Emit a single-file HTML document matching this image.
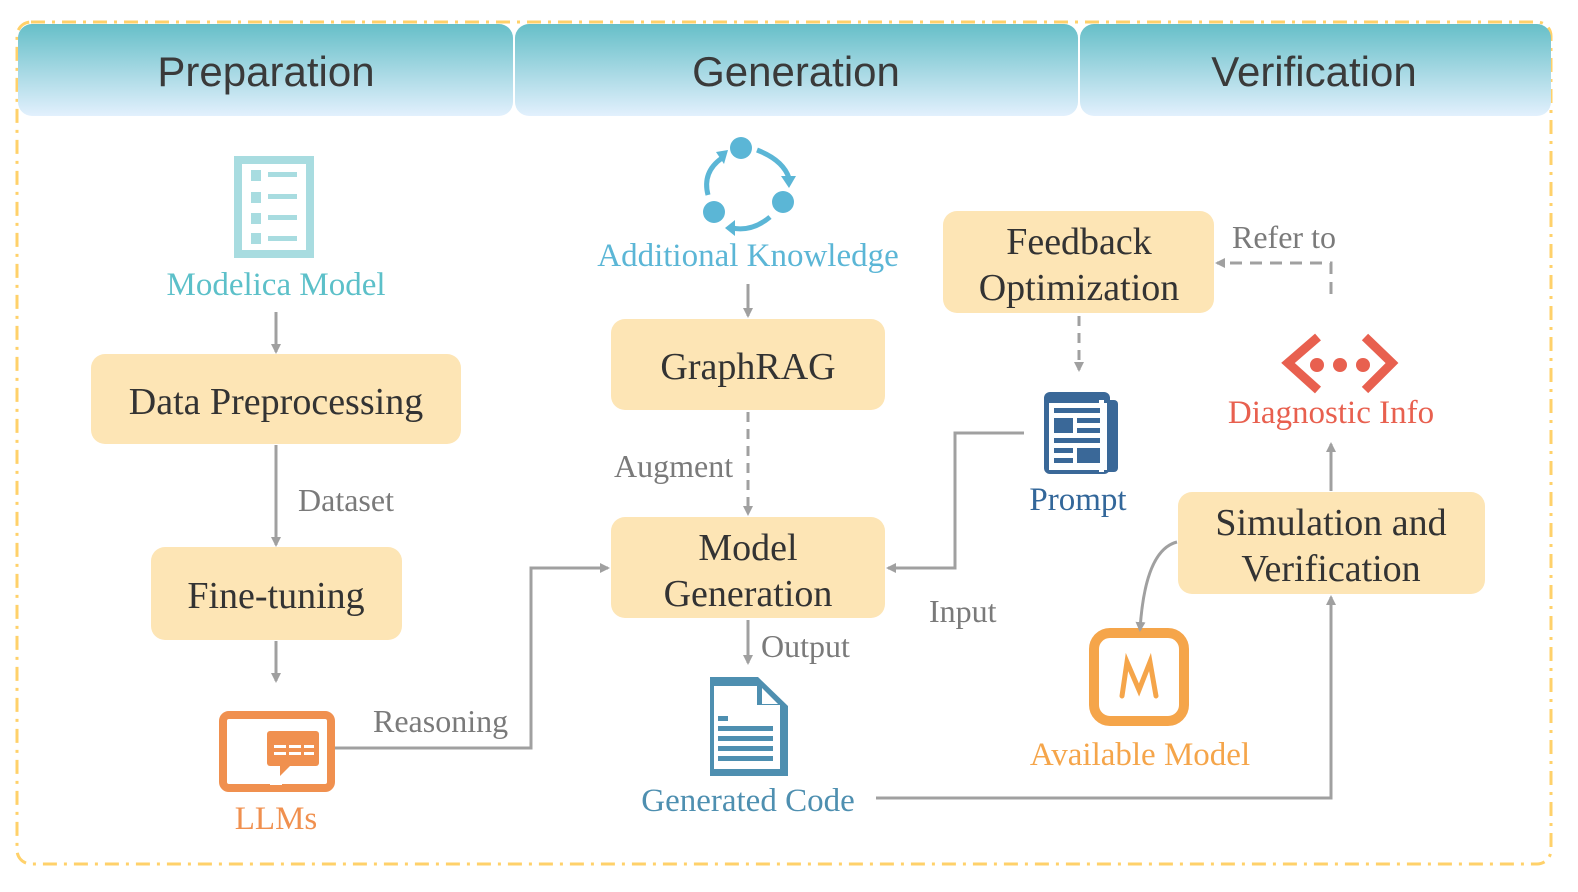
<!DOCTYPE html>
<html><head><meta charset="utf-8"><style>body{margin:0;background:#fff}svg{display:block}</style></head><body>
<svg width="1578" height="892" viewBox="0 0 1578 892" xmlns="http://www.w3.org/2000/svg">
<defs>
<linearGradient id="hg" x1="0" y1="0" x2="0" y2="1"><stop offset="0" stop-color="#66bfc8"/><stop offset="1" stop-color="#e2f0fd"/></linearGradient>
<marker id="ar" markerWidth="10" markerHeight="10" refX="8" refY="5" orient="auto" markerUnits="userSpaceOnUse"><path d="M0,0 L10,5 L0,10 Z" fill="#a0a0a0"/></marker>
</defs>
<rect x="17" y="22" width="1534" height="842" rx="14" fill="none" stroke="#ffd16a" stroke-width="3" stroke-dasharray="14,7,3,7"/>
<rect x="18" y="24" width="495" height="92" rx="14" fill="url(#hg)"/>
<rect x="515" y="24" width="563" height="92" rx="14" fill="url(#hg)"/>
<rect x="1080" y="24" width="471" height="92" rx="14" fill="url(#hg)"/>
<g style="font-family:'Liberation Sans',sans-serif" font-size="42" fill="#3a3a3a" text-anchor="middle">
<text x="266" y="86">Preparation</text><text x="796" y="86">Generation</text><text x="1314" y="86">Verification</text></g>
<g fill="#fde5b5">
<rect x="91" y="354" width="370" height="90" rx="14"/>
<rect x="151" y="547" width="251" height="93" rx="14"/>
<rect x="611" y="319" width="274" height="91" rx="14"/>
<rect x="611" y="517" width="274" height="101" rx="14"/>
<rect x="943" y="211" width="271" height="102" rx="14"/>
<rect x="1178" y="492" width="307" height="102" rx="14"/>
</g>
<g style="font-family:'Liberation Serif',serif" font-size="38" fill="#333" text-anchor="middle">
<text x="276" y="414">Data Preprocessing</text>
<text x="276" y="608">Fine-tuning</text>
<text x="748" y="379">GraphRAG</text>
<text x="748" y="560">Model</text><text x="748" y="606">Generation</text>
<text x="1079" y="254">Feedback</text><text x="1079" y="300">Optimization</text>
<text x="1331" y="535">Simulation and</text><text x="1331" y="581">Verification</text>
</g>
<g style="font-family:'Liberation Serif',serif" font-size="33" text-anchor="middle">
<text x="276" y="295" fill="#5cc0c9">Modelica Model</text>
<text x="748" y="266" fill="#5bb6d6">Additional Knowledge</text>
<text x="1078" y="510" fill="#33679a">Prompt</text>
<text x="1331" y="423" fill="#e8604f">Diagnostic Info</text>
<text x="276" y="829" fill="#f0904f">LLMs</text>
<text x="748" y="811" fill="#4e8fb0">Generated Code</text>
<text x="1140" y="765" fill="#f5a54a">Available Model</text>
</g>
<g style="font-family:'Liberation Serif',serif" font-size="32" fill="#7a7a7a">
<text x="298" y="511">Dataset</text>
<text x="614" y="477">Augment</text>
<text x="373" y="732">Reasoning</text>
<text x="761" y="657">Output</text>
<text x="929" y="622">Input</text>
<text x="1232" y="248">Refer to</text>
</g>
<!-- Modelica icon -->
<rect x="238" y="160" width="72" height="94" fill="none" stroke="#a8dce0" stroke-width="8"/>
<g fill="#a8dce0"><rect x="251" y="170" width="10" height="11"/><rect x="268" y="172" width="29" height="5"/><rect x="251" y="192" width="10" height="11"/><rect x="268" y="194" width="29" height="5"/><rect x="251" y="213" width="10" height="11"/><rect x="268" y="215" width="29" height="5"/><rect x="251" y="233" width="10" height="11"/><rect x="268" y="236" width="29" height="5"/></g>
<!-- cycle icon -->
<g fill="#5bb6d6"><circle cx="741" cy="148" r="11"/><circle cx="783" cy="202" r="11"/><circle cx="714" cy="212" r="11"/></g>
<g fill="none" stroke="#5bb6d6" stroke-width="5"><path d="M757,150 Q783,160 789,178"/><path d="M770,217 Q752,232 732,228"/><path d="M708,195 Q702,172 722,158"/></g>
<g fill="#5bb6d6"><path d="M781,176 L796,176 L789,188Z"/><path d="M735,220 L735,236 L725,228Z"/><path d="M716,152 L728,150 L724,164Z"/></g>
<!-- prompt icon -->
<rect x="1044" y="392" width="66" height="82" rx="6" fill="#3a6898"/><rect x="1104" y="400" width="14" height="72" rx="4" fill="#3a6898"/>
<rect x="1049" y="403" width="58" height="67" fill="#fff"/><rect x="1099" y="400" width="5" height="72" fill="#fff"/>
<g fill="#3a6898"><rect x="1054" y="408" width="46" height="5"/><rect x="1054" y="418" width="19" height="15"/><rect x="1077" y="418" width="23" height="5"/><rect x="1077" y="428" width="23" height="5"/><rect x="1054" y="438" width="46" height="5"/><rect x="1054" y="448" width="19" height="5"/><rect x="1077" y="448" width="23" height="15"/><rect x="1054" y="458" width="19" height="5"/></g>
<!-- diagnostic icon -->
<g fill="none" stroke="#e8604f" stroke-width="9"><path d="M1318,337 L1288,363 L1318,390"/><path d="M1365,337 L1392,363 L1365,390"/></g>
<g fill="#e8604f"><circle cx="1317" cy="365" r="7"/><circle cx="1340" cy="365" r="7"/><circle cx="1363" cy="365" r="7"/></g>
<!-- LLMs icon -->
<rect x="223" y="715" width="108" height="73" rx="6" fill="none" stroke="#f0904f" stroke-width="8"/>
<rect x="267" y="731" width="52" height="35" rx="3" fill="#f0904f"/><path d="M280,766 L280,776 L290,766Z" fill="#f0904f"/>
<g fill="#fff"><rect x="274" y="745" width="12" height="3"/><rect x="289" y="745" width="12" height="3"/><rect x="304" y="745" width="10" height="3"/><rect x="274" y="752" width="12" height="3"/><rect x="289" y="752" width="12" height="3"/><rect x="304" y="752" width="10" height="3"/></g>
<rect x="270" y="782" width="12" height="3" fill="#fff"/>
<!-- generated code -->
<path d="M710,677 L758,677 L788,706 L788,776 L710,776 Z" fill="#4e8fb0"/>
<path d="M714,686 L757,686 L757,705 L780,705 L780,769 L714,769 Z" fill="#fff"/>
<path d="M762,688 L778,704 L762,704Z" fill="#fff"/>
<g fill="#4e8fb0"><rect x="718" y="716" width="10" height="5"/><rect x="718" y="726" width="55" height="5"/><rect x="718" y="736" width="55" height="5"/><rect x="718" y="746" width="55" height="5"/><rect x="718" y="756" width="55" height="5"/></g>
<!-- available model -->
<rect x="1094" y="633" width="90" height="88" rx="16" fill="none" stroke="#f5a54a" stroke-width="10"/>
<path d="M1122,696 L1127,662 L1139,690 L1150,662 L1156,696" fill="none" stroke="#f5a54a" stroke-width="5" stroke-linecap="round"/>
<!-- arrows -->
<g fill="none" stroke="#a0a0a0" stroke-width="3">
<path d="M276,312 L276,352" marker-end="url(#ar)"/>
<path d="M276,445 L276,545" marker-end="url(#ar)"/>
<path d="M276,641 L276,681" marker-end="url(#ar)"/>
<path d="M748,284 L748,316" marker-end="url(#ar)"/>
<path d="M748,412 L748,514" stroke-dasharray="10,7" marker-end="url(#ar)"/>
<path d="M335,748 L531,748 L531,568 L608,568" marker-end="url(#ar)"/>
<path d="M748,620 L748,663" marker-end="url(#ar)"/>
<path d="M1024,433 L955,433 L955,568 L888,568" marker-end="url(#ar)"/>
<path d="M1079,316 L1079,370" stroke-dasharray="10,7" marker-end="url(#ar)"/>
<path d="M1331,294 L1331,263 L1217,263" stroke-dasharray="12,8" marker-end="url(#ar)"/>
<path d="M1331,491 L1331,444" marker-end="url(#ar)"/>
<path d="M876,798 L1331,798 L1331,597" marker-end="url(#ar)"/>
<path d="M1177,542 Q1145,550 1140,630" marker-end="url(#ar)"/>
</g>
</svg>
</body></html>
